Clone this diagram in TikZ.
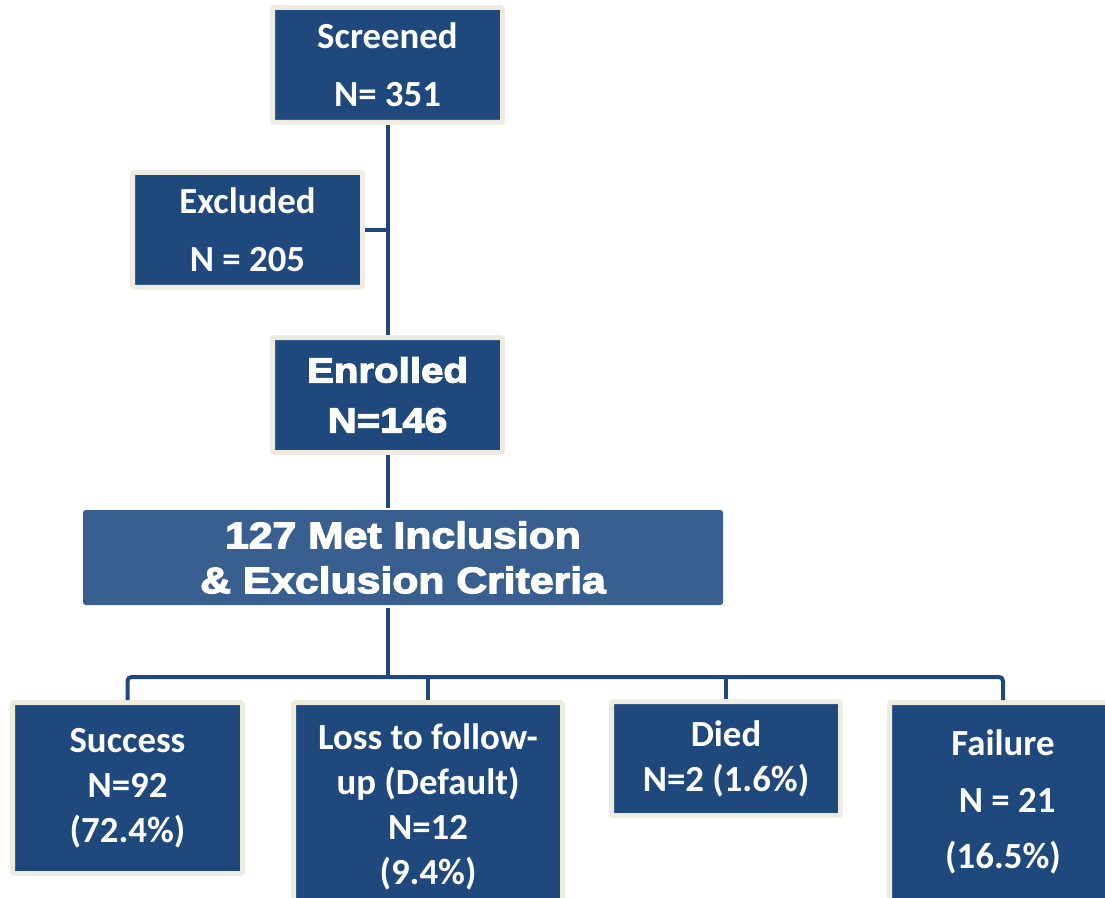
\documentclass[tikz,border=0pt]{standalone}
\usepackage{fontspec}
\setmainfont{Carlito}
\newfontfamily\heavyfont[FakeBold=3.5,FakeStretch=1.16]{Liberation Sans}
\definecolor{boxblue}{HTML}{1F497D}
\definecolor{critblue}{HTML}{385F90}
\definecolor{boxcream}{HTML}{EEECE1}
\tikzset{
  box/.style={draw=boxcream, fill=boxblue, line width=3.75pt, rounded corners=1.5pt,
    text=white, align=center, inner sep=0pt},
  calb/.style={font=\bfseries\fontsize{27.6}{#1}\selectfont},
  heavy/.style 2 args={font=\heavyfont\bfseries\fontsize{#1}{#2}\selectfont},
  link/.style={draw=boxblue, line width=3pt}
}
\begin{document}
\begin{tikzpicture}[x=0.75pt, y=-0.75pt]
\useasboundingbox (0,0) rectangle (1105,898);
% top of the flow
\node[box, calb=43.5, minimum width=172.5pt, minimum height=86.25pt] (screened) at (387.5,65) {Screened\\N= 351};
\node[box, calb=43.5, minimum width=172.5pt, minimum height=86.25pt] (excluded) at (247.5,230) {Excluded\\N = 205};
\node[box, heavy={26}{37.5}, minimum width=172.5pt, minimum height=86.25pt] (enrolled) at (387.5,395) {Enrolled\\N=146};
\node[box, heavy={27.6}{33.75}, fill=critblue, draw=none, rounded corners=2pt, minimum width=480pt, minimum height=71.25pt] (criteria) at (403,557.5) {127 Met Inclusion\\\& Exclusion Criteria};

% outcomes
\node[box, calb=33.75, minimum width=172.5pt, minimum height=128.25pt] (success) at (127.5,788) {Success\\N=92\\(72.4\%)};
\node[box, calb=33.75, minimum width=201.75pt, minimum height=156.75pt] (loss) at (428,807) {Loss to follow-\\up (Default)\\N=12\\(9.4\%)};
\node[box, calb=33.75, minimum width=171.75pt, minimum height=85.5pt] (died) at (726,758.5) {Died\\N=2 (1.6\%)};
\node[box, calb=42.4, minimum width=170.25pt, minimum height=149.25pt] (failure) at (1003,802) {Failure\\~N = 21\\(16.5\%)};

\coordinate (bus) at (387.5,677);

\draw[link] (screened.south) -- (enrolled.north);
\draw[link] (excluded.east) -- (excluded.east -| screened.south);
\draw[link] (enrolled.south) -- (enrolled.south |- criteria.north);
\draw[link] (enrolled.south |- criteria.south) -- (bus);
\draw[link, rounded corners=3pt] (success.north) |- (bus) -| (failure.north);
\draw[link] (loss.north) -- (loss.north |- bus);
\draw[link] (died.north) -- (died.north |- bus);
\end{tikzpicture}
\end{document}
